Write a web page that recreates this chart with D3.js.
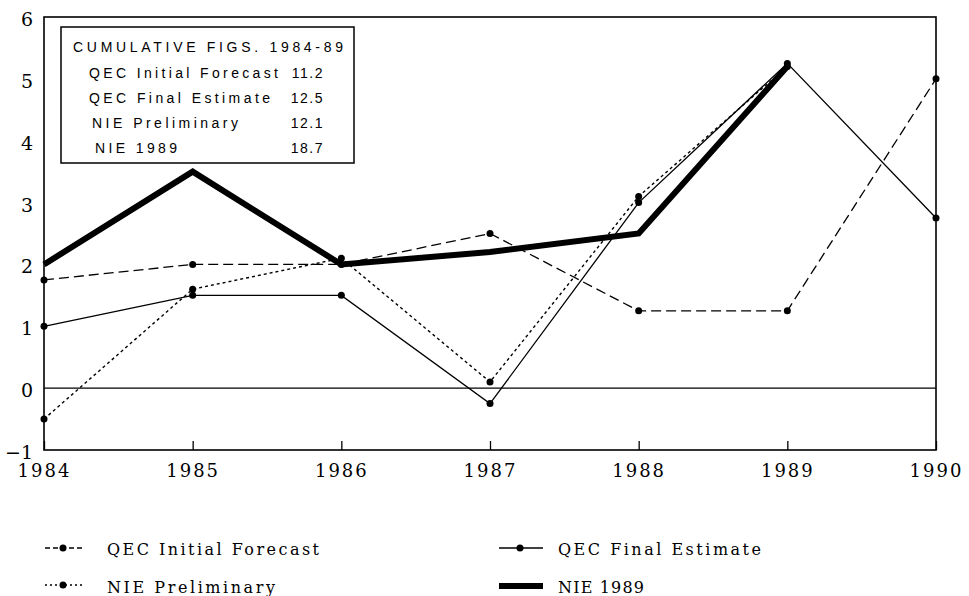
<!DOCTYPE html>
<html>
<head>
<meta charset="utf-8">
<script src="https://cdn.jsdelivr.net/npm/d3@7"></script>
<style>
  body { margin: 0; background: #fff; }
  svg { display: block; }
</style>
</head>
<body>
<script>
// data
var years = [1984, 1985, 1986, 1987, 1988, 1989, 1990];
var qecInitial = [1.75, 2.0, 2.0, 2.5, 1.25, 1.25, 5.0];
var qecFinal = [1.0, 1.5, 1.5, -0.25, 3.0, 5.25, 2.75];
var niePrelim = [-0.5, 1.6, 2.1, 0.1, 3.1, 5.2];
var nie1989 = [2.0, 3.5, 2.0, 2.2, 2.5, 5.2];
var yTicks = [-1, 0, 1, 2, 3, 4, 5, 6];

var boxTitle = 'CUMULATIVE FIGS. 1984-89';
var boxNames = ['QEC Initial Forecast', 'QEC Final Estimate', 'NIE Preliminary', 'NIE 1989'];
var boxValues = ['11.2', '12.5', '12.1', '18.7'];

var W = 969, H = 596;
// plot frame ("top" is taken on window, so other names)
var plotL = 44, plotR = 936, plotT = 17, plotB = 450;

var svg = d3.select('body').append('svg')
            .attr('width', W)
            .attr('height', H);

var x = d3.scaleLinear().domain([1984, 1990]).range([plotL, plotR]);
var y = d3.scaleLinear().domain([-1, 6]).range([plotB, plotT]);

var serif = 'DejaVu Serif';

// zero line
svg.append('line')
   .attr('x1', plotL).attr('x2', plotR)
   .attr('y1', y(0)).attr('y2', y(0))
   .attr('stroke', '#000').attr('stroke-width', 1.4);

// axes
var xAxis = svg.append('g')
   .attr('transform', 'translate(0,' + plotB + ')')
   .call(d3.axisBottom(x).tickValues(years).tickFormat(d3.format('d'))
           .tickSizeInner(-9).tickSizeOuter(0).tickPadding(14));
xAxis.select('.domain').remove();
xAxis.selectAll('line').attr('stroke', '#000').attr('stroke-width', 1.3);
xAxis.selectAll('text')
     .attr('font-family', serif).attr('font-size', 18)
     .attr('letter-spacing', 2).attr('fill', '#000');

var yAxis = svg.append('g')
   .attr('transform', 'translate(' + plotL + ',0)')
   .call(d3.axisLeft(y).tickValues(yTicks).tickFormat(d3.format('d'))
           .tickSize(0).tickPadding(11));
yAxis.select('.domain').remove();
yAxis.selectAll('text')
     .attr('font-family', serif).attr('font-size', 19)
     .attr('dy', '0.45em').attr('fill', '#000');

// frame
svg.append('rect')
   .attr('x', plotL).attr('y', plotT)
   .attr('width', plotR - plotL).attr('height', plotB - plotT)
   .attr('fill', 'none').attr('stroke', '#000').attr('stroke-width', 1.6);

var series = [
  { name: 'QEC Initial Forecast', values: qecInitial, width: 1.3, dash: '10,5', dots: true },
  { name: 'QEC Final Estimate', values: qecFinal, width: 1.3, dash: null, dots: true },
  { name: 'NIE Preliminary', values: niePrelim, width: 1.4, dash: '3,3', dots: true },
  { name: 'NIE 1989', values: nie1989, width: 6, dash: null, dots: false }
];

var line = d3.line()
  .x(function(d) { return x(d.year); })
  .y(function(d) { return y(d.v); });

series.forEach(function(s) {
  var pts = s.values.map(function(v, i) { return { year: years[i], v: v }; });
  svg.append('path')
     .datum(pts)
     .attr('d', line)
     .attr('fill', 'none')
     .attr('stroke', '#000')
     .attr('stroke-width', s.width)
     .attr('stroke-linejoin', 'miter')
     .attr('stroke-dasharray', s.dash);
  if (s.dots) {
    svg.selectAll(null).data(pts).enter().append('circle')
       .attr('cx', function(d) { return x(d.year); })
       .attr('cy', function(d) { return y(d.v); })
       .attr('r', 3.5)
       .attr('fill', '#000');
  }
});

// cumulative box
svg.append('rect')
   .attr('x', 61).attr('y', 27)
   .attr('width', 293).attr('height', 136)
   .attr('fill', '#fff').attr('stroke', '#000').attr('stroke-width', 1.5);

var sans = 'Liberation Sans';
svg.append('text')
   .attr('x', 73).attr('y', 52)
   .attr('font-family', sans).attr('font-size', 14)
   .attr('textLength', 270).attr('lengthAdjust', 'spacing')
   .text(boxTitle);

var nameX = [89, 89, 92, 95];
var nameLen = [189, 181, 146, 82];
var rowY = [78, 103, 128, 153];
boxNames.forEach(function(n, i) {
  svg.append('text')
     .attr('x', nameX[i]).attr('y', rowY[i])
     .attr('font-family', sans).attr('font-size', 14)
     .attr('textLength', nameLen[i]).attr('lengthAdjust', 'spacing')
     .text(n);
  svg.append('text')
     .attr('x', 324).attr('y', rowY[i])
     .attr('text-anchor', 'end')
     .attr('font-family', sans).attr('font-size', 14)
     .attr('letter-spacing', 1.5)
     .text(boxValues[i]);
});

// legend below
var legendPos = [
  { x1: 45, x2: 83, yy: 548, tx: 107, ty: 555, tl: 212 },
  { x1: 499, x2: 543, yy: 548, tx: 558, ty: 555, tl: 203 },
  { x1: 45, x2: 83, yy: 585, tx: 107, ty: 593, tl: 168 },
  { x1: 499, x2: 543, yy: 586, tx: 558, ty: 593, tl: 86 }
];
series.forEach(function(s, i) {
  var p = legendPos[i];
  svg.append('line')
     .attr('x1', p.x1).attr('x2', p.x2)
     .attr('y1', p.yy).attr('y2', p.yy)
     .attr('stroke', '#000')
     .attr('stroke-width', s.width)
     .attr('stroke-dasharray', s.dash ? (s.dash === '3,3' ? '2,3' : '5,3') : null);
  if (s.dots) {
    svg.append('circle')
       .attr('cx', (p.x1 + p.x2) / 2 - 1).attr('cy', p.yy)
       .attr('r', 3.5).attr('fill', '#000');
  }
  svg.append('text')
     .attr('x', p.tx).attr('y', p.ty)
     .attr('font-family', serif).attr('font-size', 16)
     .attr('textLength', p.tl).attr('lengthAdjust', 'spacing')
     .text(s.name);
});
</script>
</body>
</html>
